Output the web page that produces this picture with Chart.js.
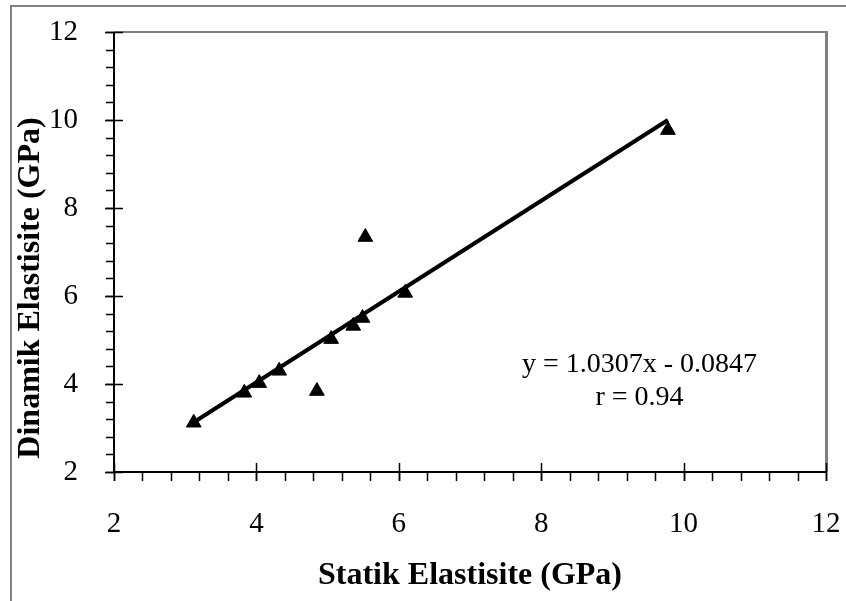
<!DOCTYPE html>
<html>
<head>
<meta charset="utf-8">
<title>Statik - Dinamik Elastisite</title>
<script src="https://cdn.jsdelivr.net/npm/chart.js@4.4.1/dist/chart.umd.min.js"></script>
<style>
  html, body { margin: 0; padding: 0; background: #fff; }
  #wrap { width: 846px; height: 601px; }
</style>
</head>
<body>
<div id="wrap"><canvas id="grafik"></canvas></div>
<script>
// Ölçülen değerler (GPa)
const statik  = [3.12, 3.83, 4.04, 4.32, 4.85, 5.05, 5.36, 5.49, 5.53, 6.09, 9.78];
const dinamik = [3.12, 3.80, 4.02, 4.30, 3.84, 5.02, 5.32, 5.50, 7.34, 6.07, 9.77];

// Regresyon doğrusunun uç noktaları
const trendX = [3.12, 9.78];
const trendY = [3.13, 10.0];

// Eksen sınırları ve adımlar
const eksenMin = 2;
const eksenMax = 12;
const anaAdim = 2;
const araAdim = 0.4;

// Yazılar
const denklem = ['y = 1.0307x - 0.0847', 'r = 0.94'];
const denklemX = 9.38;
const denklemY = [4.45, 3.70];
const xBaslik = 'Statik Elastisite (GPa)';
const yBaslik = 'Dinamik Elastisite (GPa)';

const yazi = 'Liberation Serif, Times New Roman, serif';

// etiket taşmaları için eklenen iç boşlukları sıfırla
function boslukSifirla(scale) {
    scale.paddingLeft = 0;
    scale.paddingRight = 0;
    scale.paddingTop = 0;
    scale.paddingBottom = 0;
}

// Çerçeve, eksen çizgileri ve çentikler
const cercevePlugin = {
    id: 'cerceve',
    beforeDatasetsDraw(chart) {
        const ctx = chart.ctx;
        const a = chart.chartArea;
        const xs = chart.scales.x;
        const ys = chart.scales.y;
        ctx.save();

        // dış çerçeve (sadece üst ve sol görünüyor)
        ctx.strokeStyle = '#808080';
        ctx.lineWidth = 2;
        ctx.beginPath();
        ctx.moveTo(11, chart.height);
        ctx.lineTo(11, 6);
        ctx.lineTo(chart.width, 6);
        ctx.stroke();

        // çizim alanı üst ve sağ kenar
        ctx.beginPath();
        ctx.moveTo(a.left, a.top);
        ctx.lineTo(a.right, a.top);
        ctx.stroke();
        ctx.lineWidth = 3;
        ctx.beginPath();
        ctx.moveTo(a.right + 0.5, a.top - 1);
        ctx.lineTo(a.right + 0.5, a.bottom);
        ctx.stroke();

        // eksenler
        ctx.strokeStyle = '#000';
        ctx.lineWidth = 2;
        ctx.beginPath();
        ctx.moveTo(a.left, a.top);
        ctx.lineTo(a.left, a.bottom);
        ctx.lineTo(a.right, a.bottom);
        ctx.stroke();

        // ara çentikler
        ctx.lineWidth = 1.5;
        ctx.beginPath();
        for (let v = eksenMin; v <= eksenMax + 1e-9; v += araAdim) {
            const px = Math.round(xs.getPixelForValue(v)) + 0.5;
            ctx.moveTo(px, a.bottom);
            ctx.lineTo(px, a.bottom + 9);
            const py = Math.round(ys.getPixelForValue(v)) + 0.5;
            ctx.moveTo(a.left - 8, py);
            ctx.lineTo(a.left, py);
        }
        ctx.stroke();

        // ana çentikler (ekseni keser)
        ctx.beginPath();
        for (let v = eksenMin; v <= eksenMax + 1e-9; v += anaAdim) {
            const px = Math.round(xs.getPixelForValue(v)) + 0.5;
            ctx.moveTo(px, a.bottom - 9);
            ctx.lineTo(px, a.bottom + 9);
            const py = Math.round(ys.getPixelForValue(v)) + 0.5;
            ctx.moveTo(a.left - 9, py);
            ctx.lineTo(a.left + 9, py);
        }
        ctx.stroke();
        ctx.restore();
    },
    afterDatasetsDraw(chart) {
        const ctx = chart.ctx;
        const xs = chart.scales.x;
        const ys = chart.scales.y;
        ctx.save();
        ctx.fillStyle = '#000';
        ctx.textAlign = 'center';
        ctx.textBaseline = 'middle';
        ctx.font = '28px ' + yazi;
        const tx = xs.getPixelForValue(denklemX);
        denklem.forEach((s, i) => ctx.fillText(s, tx, ys.getPixelForValue(denklemY[i])));

        // dikey eksen başlığı
        ctx.font = 'bold 32px ' + yazi;
        ctx.translate(31, 288);
        ctx.rotate(-Math.PI / 2);
        ctx.fillText(yBaslik, 0, 0);
        ctx.restore();
    }
};

const ctx = document.getElementById('grafik').getContext('2d');
new Chart(ctx, {
    type: 'scatter',
    data: {
        datasets: [
            {
                label: 'Trend',
                data: trendX.map((x, i) => ({ x: x, y: trendY[i] })),
                showLine: true,
                borderColor: '#000',
                borderWidth: 4,
                pointRadius: 0,
                fill: false
            },
            {
                label: 'Ölçüm',
                data: statik.map((x, i) => ({ x: x, y: dinamik[i] })),
                pointStyle: 'triangle',
                pointRadius: 8.5,
                backgroundColor: '#000',
                borderColor: '#000',
                borderWidth: 1
            }
        ]
    },
    options: {
        responsive: true,
        maintainAspectRatio: false,
        animation: false,
        layout: { autoPadding: false, padding: { top: 32, right: 20, left: 0, bottom: 0 } },
        plugins: {
            legend: { display: false },
            tooltip: { enabled: false }
        },
        scales: {
            x: {
                type: 'linear',
                min: eksenMin,
                max: eksenMax,
                grid: { display: false },
                border: { display: false },
                ticks: {
                    stepSize: anaAdim,
                    padding: 27,
                    color: '#000',
                    font: { family: yazi, size: 29 }
                },
                title: {
                    display: true,
                    text: xBaslik,
                    color: '#000',
                    font: { family: yazi, size: 32, weight: 'bold' },
                    padding: { top: 0, bottom: 6 }
                },
                afterFit(scale) { scale.height = 129; boslukSifirla(scale); }
            },
            y: {
                type: 'linear',
                min: eksenMin,
                max: eksenMax,
                grid: { display: false },
                border: { display: false },
                ticks: {
                    stepSize: anaAdim,
                    padding: 28,
                    color: '#000',
                    font: { family: yazi, size: 29 }
                },
                afterFit(scale) { scale.width = 114; boslukSifirla(scale); }
            }
        }
    },
    plugins: [cercevePlugin]
});
</script>
</body>
</html>
